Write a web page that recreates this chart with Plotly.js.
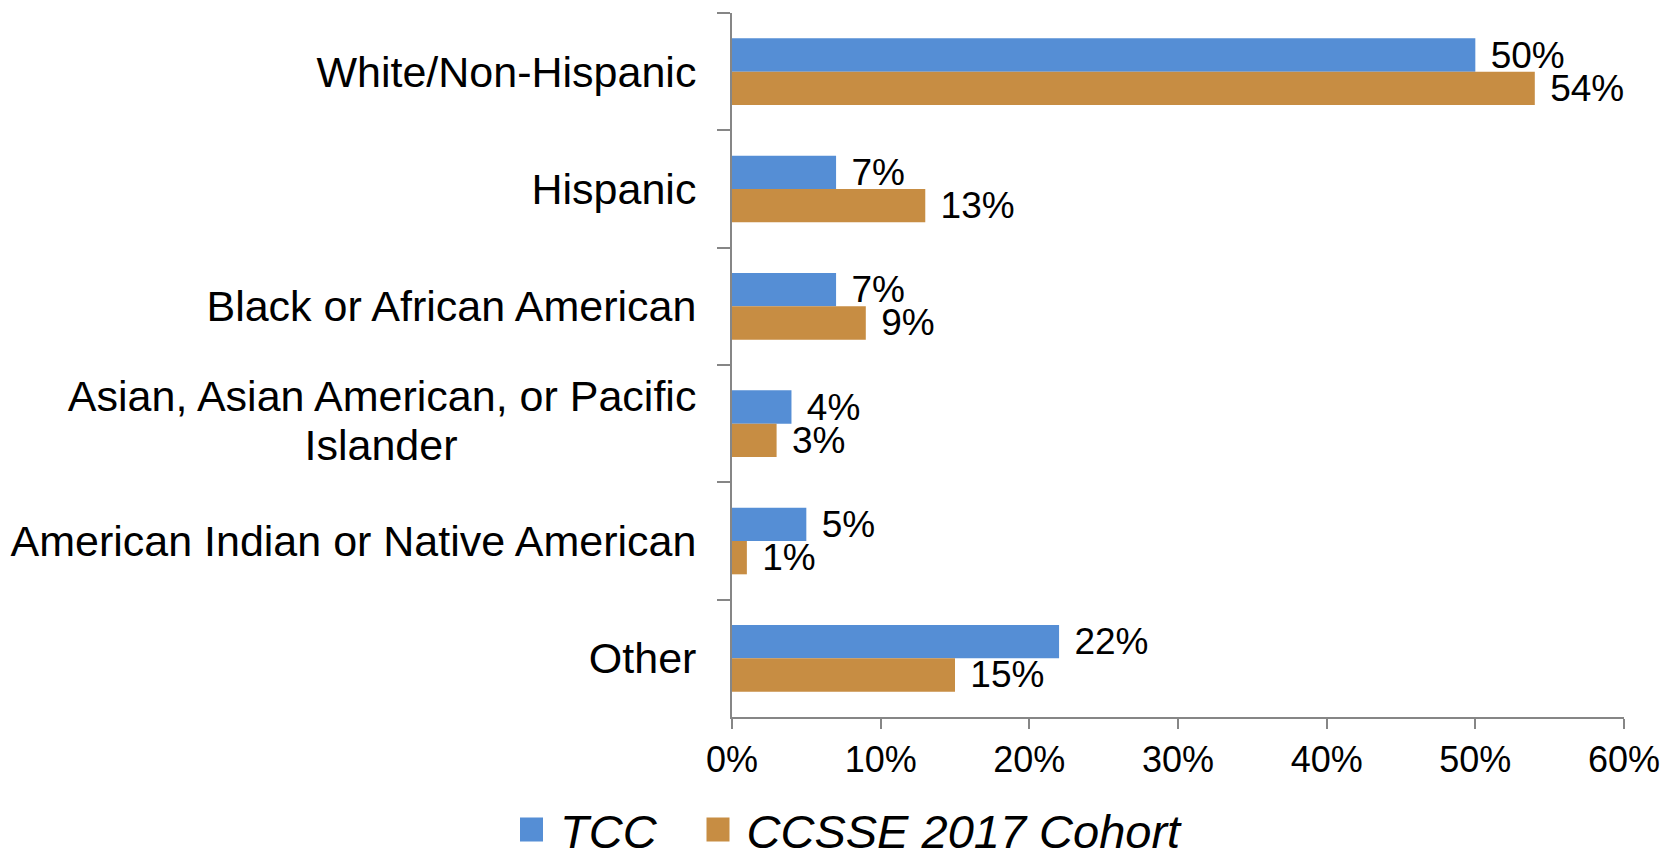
<!DOCTYPE html>
<html>
<head>
<meta charset="utf-8">
<script src="https://cdn.plot.ly/plotly-3.0.1.min.js"></script>
<style>
  html, body { margin: 0; padding: 0; background: #fff; }
  #chart { width: 1665px; height: 852px; }
</style>
</head>
<body>
<div id="chart"></div>
<script>
const NBSP = "\u00A0";
const categories = [
  "White/Non-Hispanic",
  "Hispanic",
  "Black or African American",
  "Asian, Asian American, or Pacific<br>Islander" + NBSP.repeat(20),
  "American Indian or Native American",
  "Other"
];
const tccValues = [0.50, 0.07, 0.07, 0.04, 0.05, 0.22];
const ccsseValues = [0.54, 0.13, 0.09, 0.03, 0.01, 0.15];
const seriesNames = ["TCC", "CCSSE 2017 Cohort"];
const xTickValues = [0, 0.1, 0.2, 0.3, 0.4, 0.5, 0.6];
const xTickLabels = ["0%", "10%", "20%", "30%", "40%", "50%", "60%"];

const FONT = "'Liberation Sans', Arial, sans-serif";
const AXIS = "#868686";

function pctLabels(arr) { return arr.map(v => "\u2004" + Math.round(v * 100) + "%"); }

const traces = [
  {
    type: "bar", orientation: "h", name: seriesNames[0], legend: "legend",
    y: categories, x: tccValues,
    text: pctLabels(tccValues), textposition: "outside", cliponaxis: false,
    constraintext: "none",
    textfont: { family: FONT, size: 37, color: "#000" },
    marker: { color: "#558ED5", line: { width: 0 } },
    hoverinfo: "skip"
  },
  {
    type: "bar", orientation: "h", name: seriesNames[1], legend: "legend2",
    y: categories, x: ccsseValues,
    text: pctLabels(ccsseValues), textposition: "outside", cliponaxis: false,
    constraintext: "none",
    textfont: { family: FONT, size: 37, color: "#000" },
    marker: { color: "#C78D43", line: { width: 0 } },
    hoverinfo: "skip"
  }
];

const legendBase = {
  orientation: "h", xref: "container", yref: "container",
  xanchor: "left", y: 0.026, yanchor: "middle",
  font: { family: FONT, size: 47, color: "#000", style: "italic" },
  itemclick: false, itemdoubleclick: false, bgcolor: "rgba(0,0,0,0)"
};

const layout = {
  width: 1665, height: 852,
  paper_bgcolor: "#fff", plot_bgcolor: "#fff",
  margin: { l: 732, r: 41, t: 12.5, b: 134.5, pad: 0 },
  barmode: "group", bargap: 0.432, bargroupgap: 0,
  font: { family: FONT, color: "#000" },
  showlegend: true,
  legend: Object.assign({}, legendBase, { x: 520 / 1665 }),
  legend2: Object.assign({}, legendBase, { x: 706.5 / 1665 }),
  xaxis: {
    range: [0, 0.6], tickvals: xTickValues, ticktext: xTickLabels,
    showgrid: false, zeroline: false,
    showline: true, linecolor: AXIS, linewidth: 2,
    ticks: "outside", ticklen: 10, tickwidth: 2, tickcolor: AXIS,
    tickfont: { family: FONT, size: 36, color: "#000" },
    fixedrange: true
  },
  yaxis: {
    type: "category", autorange: "reversed",
    showgrid: false, zeroline: false,
    showline: true, linecolor: AXIS, linewidth: 2,
    ticks: "outside", tickson: "boundaries", ticklen: 13, tickwidth: 2, tickcolor: AXIS,
    tickfont: { family: FONT, size: 43, color: "#000" },
    ticklabelstandoff: 25,
    fixedrange: true
  }
};

Plotly.newPlot("chart", traces, layout, { displayModeBar: false, staticPlot: true }).then(() => {
  document.querySelectorAll(".legendpoints path").forEach(p => {
    p.setAttribute("d", "M3,12H-21V-12H3Z");
  });
  document.querySelectorAll(".ytick text tspan.line").forEach(t => {
    if (t.getAttribute("dy") === "1.3em") t.setAttribute("dy", "1.14em");
  });
});
</script>
</body>
</html>
